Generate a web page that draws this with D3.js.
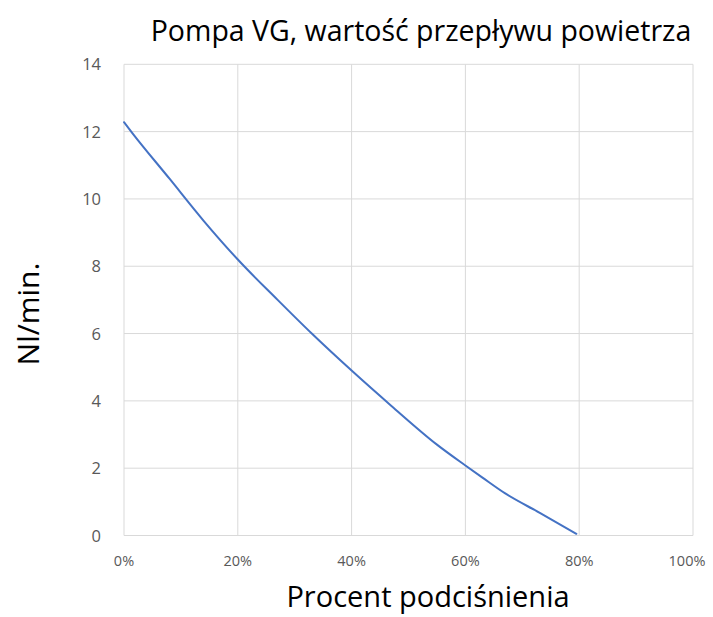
<!DOCTYPE html>
<html><head><meta charset="utf-8">
<script src="https://cdn.jsdelivr.net/npm/d3@7"></script>
<style>body{margin:0;background:#fff}</style>
</head><body>
<svg id="c" width="713" height="617"></svg>
<script>
const vacuumPct = [0, 1.5, 8, 14, 20, 27, 33, 40, 47, 55, 60, 63, 67, 73, 79.5];
const flowNlMin = [12.28, 11.95, 10.6, 9.35, 8.2, 7.0, 6.0, 4.9, 3.85, 2.7, 2.08, 1.72, 1.25, 0.68, 0.05];
const xTicks = [0, 20, 40, 60, 80, 100];
const yTicks = [0, 2, 4, 6, 8, 10, 12, 14];
const title = "Pompa VG, wartość przepływu powietrza";
const xTitle = "Procent podciśnienia";
const yTitle = "Nl/min.";

const svg = d3.select("#c");
const L = 124, R = 693, T = 64.3, B = 535.5;
const x = d3.scaleLinear().domain([0, 100]).range([L, R]);
const y = d3.scaleLinear().domain([0, 14]).range([B, T]);
const font = "'Open Sans', 'Noto Sans', sans-serif";

const g = svg.append("g");
g.selectAll(".hg").data(yTicks).join("line")
  .attr("x1", L).attr("x2", R).attr("y1", d => y(d)).attr("y2", d => y(d))
  .attr("stroke", "#d9d9d9").attr("stroke-width", 1);
g.selectAll(".vg").data(xTicks).join("line")
  .attr("y1", T).attr("y2", B).attr("x1", d => x(d)).attr("x2", d => x(d))
  .attr("stroke", "#d9d9d9").attr("stroke-width", 1);

g.selectAll(".yt").data(yTicks).join("text")
  .attr("x", 101).attr("y", d => y(d) + 6).attr("text-anchor", "end")
  .attr("font-family", font).attr("font-size", 16.5).attr("fill", "#595959")
  .text(d => d);
g.selectAll(".xt").data(xTicks).join("text")
  .attr("x", d => x(d) - (d === 100 ? 6 : 0)).attr("y", 566).attr("text-anchor", "middle")
  .attr("font-family", font).attr("font-size", 14.5).attr("fill", "#595959")
  .text(d => d + "%");

const pts = vacuumPct.map((v, i) => [v, flowNlMin[i]]);
svg.append("path").datum(pts)
  .attr("d", d3.line().x(d => x(d[0])).y(d => y(d[1])).curve(d3.curveMonotoneX))
  .attr("fill", "none").attr("stroke", "#4472c4").attr("stroke-width", 2)
  .attr("stroke-linecap", "round");

svg.append("text").attr("x", 421).attr("y", 41).attr("text-anchor", "middle")
  .attr("font-family", font).attr("font-size", 28.5).attr("fill", "#000").text(title);
svg.append("text").attr("x", 428).attr("y", 607).attr("text-anchor", "middle")
  .attr("font-family", font).attr("font-size", 29).attr("fill", "#000").text(xTitle);
svg.append("text").attr("transform", "translate(39,314) rotate(-90)").attr("text-anchor", "middle")
  .attr("font-family", font).attr("font-size", 30).attr("fill", "#000").text(yTitle);
</script>
</body></html>
